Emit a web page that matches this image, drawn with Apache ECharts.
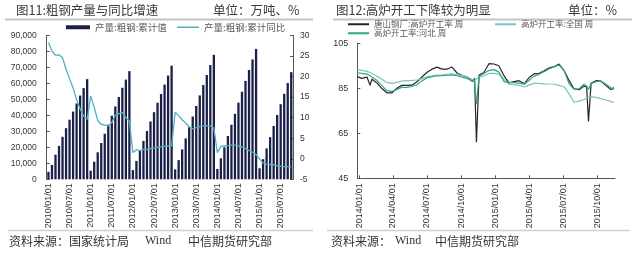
<!DOCTYPE html>
<html><head><meta charset="utf-8">
<script src="https://cdn.jsdelivr.net/npm/echarts@6/dist/echarts.min.js"></script>
<style>html,body{margin:0;padding:0;background:#fff}#c{width:640px;height:258px}</style>
</head><body><div id="c"></div>
<script>
// ---------- Left chart data (monthly, 2010/01 - 2015/10) ----------
const years = [2010, 2011, 2012, 2013, 2014, 2015];
const prod2010 = [4700, 9000, 15400, 20900, 26600, 32000, 37300, 42400, 47500, 52400, 57100, 62700];
const prod2011 = [5400, 11000, 16900, 22700, 28500, 34200, 39800, 45600, 51500, 57300, 62400, 67700];
const prod2012 = [5800, 11500, 17900, 24000, 30200, 36200, 42000, 47900, 53400, 59300, 64900, 71100];
const prod2013 = [6200, 12000, 18700, 25600, 32600, 39300, 45900, 52500, 59000, 65300, 71500, 77900];
const prod2014 = [6500, 13100, 20000, 27100, 34200, 41000, 48000, 54800, 61600, 68400, 75000, 81600];
const prod2015 = [6900, 12600, 19300, 26400, 33400, 40300, 47000, 53500, 60300, 67100];
const yoy2010 = [28.3, 26.2, 25.2, 25.3, 24.6, 21.8, 19.5, 17.2, 14.4, 12.1, 10.4, 9.6];
const yoy2011 = [15.3, 12.5, 9.3, 8.4, 8.2, 8.0, 8.8, 10.6, 11.0, 11.2, 10.0, 9.2];
const yoy2012 = [1.5, 2.2, 2.0, 2.3, 2.2, 2.5, 2.6, 2.8, 2.9, 3.0, 3.1, 3.1];
const yoy2013 = [11.3, 10.5, 9.5, 8.7, 7.8, 7.3, 7.6, 7.8, 8.0, 8.0, 8.0, 7.5];
const yoy2014 = [1.5, 3.0, 3.1, 3.2, 3.3, 3.3, 3.1, 2.9, 2.5, 2.0, 1.6, 1.0];
const yoy2015 = [-0.1, -1.0, -1.3, -1.4, -1.5, -1.7, -1.8, -1.9, -1.9, -2.0];
const prodValues = [].concat(prod2010, prod2011, prod2012, prod2013, prod2014, prod2015);
const yoyValues = [].concat(yoy2010, yoy2011, yoy2012, yoy2013, yoy2014, yoy2015);
const monthCats = [];
years.forEach(y => { for (let m = 1; m <= 12; m++) { if (monthCats.length < prodValues.length) monthCats.push(y + '/' + (m < 10 ? '0' + m : m) + '/01'); } });

// ---------- Right chart data (weekly readings) ----------
const rtDates = ['2013-12-27','2014-01-08','2014-01-22','2014-01-30','2014-02-04','2014-02-17','2014-03-03','2014-03-16','2014-03-30','2014-04-12','2014-04-25','2014-05-09','2014-05-22','2014-06-04','2014-06-18','2014-07-01','2014-07-15','2014-07-28','2014-08-11','2014-08-24','2014-09-06','2014-09-20','2014-10-03','2014-10-17','2014-10-30','2014-11-06','2014-11-11','2014-11-18','2014-12-01','2014-12-15','2014-12-28','2015-01-10','2015-01-24','2015-02-06','2015-02-20','2015-03-05','2015-03-19','2015-04-01','2015-04-14','2015-04-28','2015-05-11','2015-05-24','2015-06-07','2015-06-20','2015-07-04','2015-07-17','2015-07-30','2015-08-13','2015-08-26','2015-09-02','2015-09-07','2015-09-14','2015-09-27','2015-10-10','2015-10-24','2015-11-06','2015-11-14'];
const tangshanRate = [90.2,89.4,90.0,86.3,89.0,87.5,84.9,83.0,83.0,85.0, 86.3,86.3,86.4,87.8,90.0,92.0,93.5,94.4,93.5,93.5, 94.5,91.8,90.8,90.0,88.2,89.4,61.0,90.9,92.0,96.0, 95.8,95.0,90.5,87.4,88.0,88.4,87.0,89.8,91.4,91.7, 92.8,94.0,94.6,95.8,92.8,88.5,84.8,84.4,86.0,85.7, 70.3,87.2,88.4,88.2,86.2,84.5,85.3];
const nationalRate = [93.3,93.0,92.5,92.0,91.7,90.5,89.0,87.6,87.2,87.6, 88.2,88.4,88.5,88.7,89.3,90.1,90.5,90.9,90.9,91.2, 91.4,91.0,90.8,90.0,89.0,88.6,88.2,89.8,90.6,91.6, 91.6,91.2,89.0,86.8,86.6,86.3,85.6,86.4,87.2,87.2, 87.0,86.9,86.8,86.3,85.6,82.5,78.8,79.3,80.0,80.5, 80.8,81.2,81.0,80.4,79.8,79.2,78.7];
const hebeiRate = [91.9,91.6,91.3,90.6,90.0,88.6,86.2,84.0,83.6,84.5, 85.4,85.4,85.8,86.6,88.3,89.6,90.2,90.5,90.6,90.8, 90.9,90.6,90.0,89.4,88.3,87.8,78.0,90.2,91.6,93.0, 93.3,92.2,88.0,87.5,87.5,87.3,86.8,88.6,90.3,91.3, 92.4,93.6,94.6,95.3,92.8,87.0,84.6,84.8,86.8,86.0, 84.5,87.0,87.9,88.2,86.8,85.2,84.5];
const rtTickDates = ['2014-01-01','2014-04-01','2014-07-01','2014-10-01','2015-01-01','2015-04-01','2015-07-01','2015-10-01'];
const rtRange = ['2013-12-27', '2015-11-17'];

const names = {
  prod: '产量:粗钢:累计值', yoy: '产量:粗钢:累计同比',
  ts: '唐山钢厂:高炉开工率 周', nat: '高炉开工率:全国 周', heb: '高炉开工率:河北 周'
};

function ts(s) { const p = s.split('-').map(Number); return Date.UTC(p[0], p[1] - 1, p[2]); }
function fmtDate(v) { const d = new Date(v); const m = d.getUTCMonth() + 1, dd = d.getUTCDate(); return d.getUTCFullYear() + '/' + (m < 10 ? '0' + m : m) + '/' + (dd < 10 ? '0' + dd : dd); }
const zip = (arr) => rtDates.map((d, i) => [ts(d), arr[i]]);

const CJK = "'Noto Sans CJK SC', sans-serif";
const NUM = "'Liberation Sans', Arial, sans-serif";
const axisCol = '#555';
const lblCol = '#333';

const chart = echarts.init(document.getElementById('c'), null, { renderer: 'canvas' });

function legendItem(name, left, top, w, h, fs) {
  return { data: [name], left: left, top: top, itemWidth: w, itemHeight: h, padding: 0, itemGap: 0,
    icon: 'rect', selectedMode: false, textStyle: { fontSize: fs, color: '#595959', fontFamily: CJK } };
}

const gText = (x, y, text, size, font, color) => ({ type: 'text', x: x, y: y,
  style: { text: text, fontSize: size, fontFamily: font, fill: color || '#3a3a3a', textVerticalAlign: 'middle' } });
const gLine = (x1, y1, x2, y2, w, c) => ({ type: 'line', shape: { x1: x1, y1: y1, x2: x2, y2: y2 }, style: { stroke: c, lineWidth: w } });

const rtTicks = rtTickDates.map(ts);

const option = {
  animation: false,
  backgroundColor: '#fff',
  graphic: [
    gText(16, 10, '图11:粗钢产量与同比增速', 12.5, CJK),
    gText(213, 10, '单位：万吨、%', 12.5, CJK),
    gText(336, 10, '图12:高炉开工下降较为明显', 12.5, CJK),
    gText(568, 10, '单位：%', 12.5, CJK),
    gLine(5, 19.5, 313, 19.5, 2, '#c4c4c4'),
    gLine(333, 19.5, 632, 19.5, 2, '#c4c4c4'),
    gLine(8, 230.5, 313, 230.5, 1.5, '#cfcfcf'),
    gLine(327, 230.5, 630, 230.5, 1.5, '#cfcfcf'),
    gText(9, 241, '资料来源：国家统计局', 12, CJK, '#333'),
    gText(145, 241, 'Wind', 12, "'Liberation Serif', serif", '#333'),
    gText(188, 241, '中信期货研究部', 12, CJK, '#333'),
    gText(331, 241, '资料来源：', 12, CJK, '#333'),
    gText(395, 241, 'Wind', 12, "'Liberation Serif', serif", '#333'),
    gText(435, 241, '中信期货研究部', 12, CJK, '#333')
  ],
  legend: [
    legendItem(names.prod, 66, 22.5, 24, 4, 9.5),
    legendItem(names.yoy, 177, 22.5, 22, 1.5, 9.5),
    legendItem(names.ts, 348, 20, 21, 2, 8.5),
    legendItem(names.nat, 495, 20, 21, 2, 8.5),
    legendItem(names.heb, 348, 29, 21, 2, 8.5)
  ],
  grid: [
    { left: 46.7, top: 35.5, width: 246.3, height: 143.8 },
    { left: 357.3, top: 43.3, width: 257.7, height: 135 }
  ],
  xAxis: [
    { type: 'category', gridIndex: 0, data: monthCats, boundaryGap: true,
      axisLine: { show: false }, axisTick: { show: false },
      axisLabel: { interval: 5, rotate: 90, margin: 4, fontSize: 9, fontFamily: NUM, color: lblCol } },
    { type: 'value', gridIndex: 1, min: ts(rtRange[0]), max: ts(rtRange[1]), scale: true,
      axisLine: { show: true, lineStyle: { color: axisCol, width: 1 } },
      axisTick: { show: true, inside: true, length: 3, lineStyle: { color: axisCol }, customValues: rtTicks },
      axisLabel: { rotate: 90, margin: 5, fontSize: 9, fontFamily: NUM, color: lblCol, hideOverlap: false,
        customValues: rtTicks, formatter: (v) => fmtDate(v) },
      splitLine: { show: false } }
  ],
  yAxis: [
    { type: 'value', gridIndex: 0, min: 0, max: 90000, interval: 10000, position: 'left',
      axisLine: { show: true, lineStyle: { color: axisCol } },
      axisTick: { show: true, inside: true, length: 3, lineStyle: { color: axisCol } },
      axisLabel: { margin: 10, fontSize: 8.5, fontFamily: NUM, color: lblCol },
      splitLine: { show: false } },
    { type: 'value', gridIndex: 0, min: -5, max: 30, interval: 5, position: 'right',
      axisLine: { show: true, lineStyle: { color: axisCol } },
      axisTick: { show: true, inside: true, length: 3, lineStyle: { color: axisCol } },
      axisLabel: { margin: 7, fontSize: 8.5, fontFamily: NUM, color: lblCol },
      splitLine: { show: false } },
    { type: 'value', gridIndex: 1, min: 45, max: 105, interval: 20, position: 'left',
      axisLine: { show: true, lineStyle: { color: axisCol } },
      axisTick: { show: true, inside: true, length: 3, lineStyle: { color: axisCol } },
      axisLabel: { margin: 9, fontSize: 9, fontFamily: NUM, color: lblCol },
      splitLine: { show: false } }
  ],
  series: [
    { name: names.prod, type: 'bar', xAxisIndex: 0, yAxisIndex: 0, data: prodValues, barWidth: 2.3,
      itemStyle: { color: '#1a2048' } },
    { name: names.yoy, type: 'line', xAxisIndex: 0, yAxisIndex: 1, data: yoyValues, symbol: 'none',
      lineStyle: { color: '#4fb0c2', width: 1.3 }, itemStyle: { color: '#4fb0c2' } },
    { name: names.ts, type: 'line', xAxisIndex: 1, yAxisIndex: 2, data: zip(tangshanRate), symbol: 'none',
      lineStyle: { color: '#262626', width: 1.2 }, itemStyle: { color: '#262626' } },
    { name: names.nat, type: 'line', xAxisIndex: 1, yAxisIndex: 2, data: zip(nationalRate), symbol: 'none',
      lineStyle: { color: '#7cc4c1', width: 1.2 }, itemStyle: { color: '#7cc4c1' } },
    { name: names.heb, type: 'line', xAxisIndex: 1, yAxisIndex: 2, data: zip(hebeiRate), symbol: 'none',
      lineStyle: { color: '#2fa68b', width: 1.2 }, itemStyle: { color: '#2fa68b' } }
  ]
};
chart.setOption(option);
</script>
</body></html>
